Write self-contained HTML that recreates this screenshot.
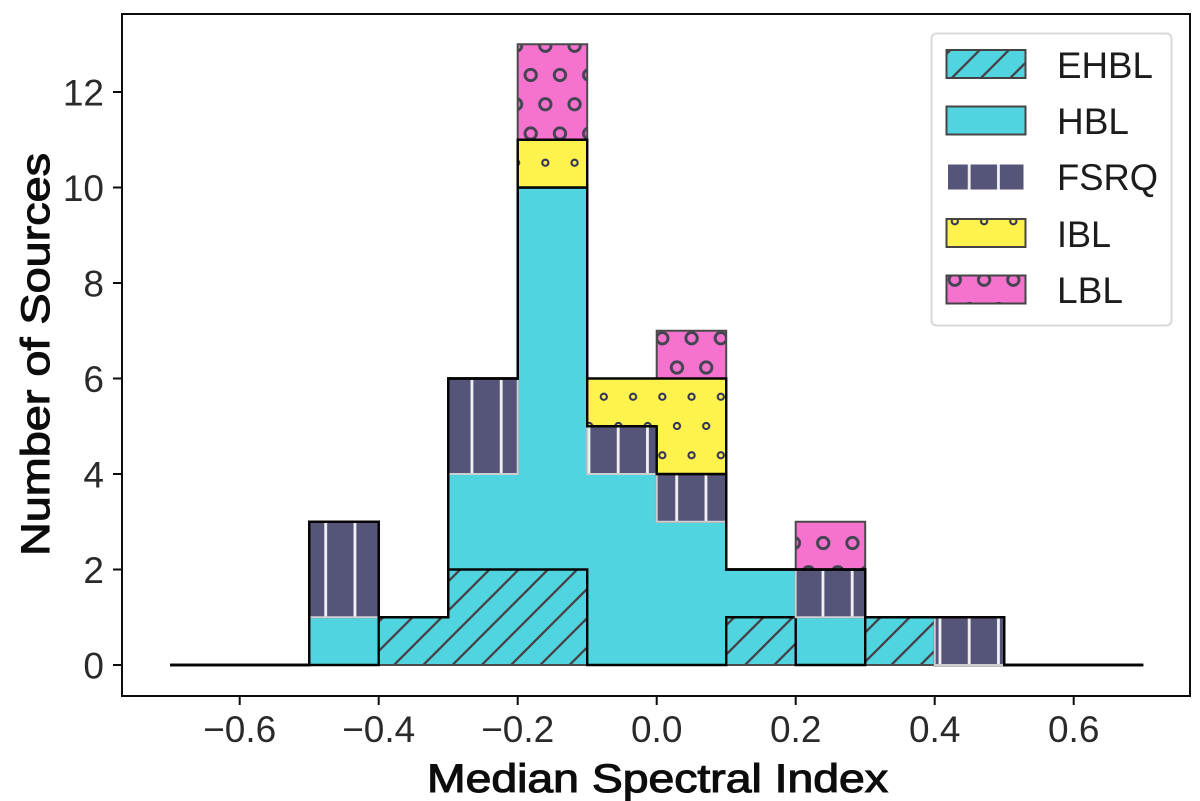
<!DOCTYPE html>
<html lang="en">
<head>
<meta charset="utf-8">
<title>Median Spectral Index histogram</title>
<style>
html,body{margin:0;padding:0;background:#fff;}
svg{display:block;}
text{font-family:"Liberation Sans",sans-serif;}
.tick{font-size:37px;fill:#2a2a2a;}
.axis-title{font-size:40px;font-weight:normal;fill:#0c0c0c;stroke:#0c0c0c;stroke-width:1.1px;}
.legend-label{font-size:37px;fill:#1c1c1c;}
</style>
</head>
<body>
<svg id="chart" xmlns="http://www.w3.org/2000/svg" width="1200" height="801" viewBox="0 0 1200 801">
  <defs>
    <pattern id="hatch-diag" patternUnits="userSpaceOnUse" x="6" y="0" width="29.25" height="29.25">
      <path d="M-3 3L3 -3M0 29.25L29.25 0M26.25 32.25L32.25 26.25" stroke="#463c42" stroke-width="2.2" fill="none"/>
    </pattern>
    <pattern id="hatch-vert" patternUnits="userSpaceOnUse" x="325.7" y="0" width="29.25" height="29.25">
      <path d="M0 0V29.25M29.25 0V29.25" stroke="#f2f2f4" stroke-width="2.8" fill="none"/>
    </pattern>
    <pattern id="hatch-small" patternUnits="userSpaceOnUse" x="530.7" y="75" width="29.25" height="58.5">
      <g fill="none" stroke="#34345a" stroke-width="2.1">
        <circle cx="0" cy="0" r="3.1"/><circle cx="29.25" cy="0" r="3.1"/>
        <circle cx="0" cy="58.5" r="3.1"/><circle cx="29.25" cy="58.5" r="3.1"/>
        <circle cx="14.625" cy="29.25" r="3.1"/>
      </g>
    </pattern>
    <pattern id="hatch-large" patternUnits="userSpaceOnUse" x="530.7" y="75" width="29.25" height="58.5">
      <g fill="none" stroke="#424550" stroke-width="2.9">
        <circle cx="0" cy="0" r="5.7"/><circle cx="29.25" cy="0" r="5.7"/>
        <circle cx="0" cy="58.5" r="5.7"/><circle cx="29.25" cy="58.5" r="5.7"/>
        <circle cx="14.625" cy="29.25" r="5.7"/>
      </g>
    </pattern>
  </defs>

  <rect x="122" y="14" width="1068" height="682" fill="#ffffff"/>
  <g id="marks"></g>
  <rect x="122" y="14" width="1068" height="682" fill="none" stroke="#0c0c0c" stroke-width="2"/>
  <g id="x-axis"></g>
  <g id="y-axis"></g>

  <text class="axis-title" x="427" y="792" textLength="461" lengthAdjust="spacingAndGlyphs">Median Spectral Index</text>
  <text class="axis-title" transform="translate(49,556) rotate(-90)" x="0" y="0" textLength="403" lengthAdjust="spacingAndGlyphs">Number of Sources</text>

  <g>
    <rect x="931.5" y="33.5" width="240" height="292" rx="5" fill="#ffffff" fill-opacity="0.9" stroke="#d8d8d8" stroke-width="2"/>
    <g>
      <rect x="946.5" y="50" width="79" height="28" fill="#50d5e0"/>
      <rect x="946.5" y="50" width="79" height="28" fill="url(#hatch-diag)" stroke="#444444" stroke-width="2"/>
      <text class="legend-label" x="1057" y="78" textLength="96" lengthAdjust="spacingAndGlyphs">EHBL</text>
    </g>
    <g>
      <rect x="946.5" y="106.5" width="79" height="28" fill="#50d5e0" stroke="#444444" stroke-width="2"/>
      <text class="legend-label" x="1057" y="134" textLength="72" lengthAdjust="spacingAndGlyphs">HBL</text>
    </g>
    <g>
      <rect x="948" y="164.5" width="75.5" height="25" fill="#555579"/>
      <rect x="948" y="164.5" width="75.5" height="25" fill="url(#hatch-vert)"/>
      <text class="legend-label" x="1057" y="190" textLength="101" lengthAdjust="spacingAndGlyphs">FSRQ</text>
    </g>
    <g>
      <rect x="946.5" y="219" width="79" height="28" fill="#fef24c"/>
      <rect x="946.5" y="219" width="79" height="28" fill="url(#hatch-small)" stroke="#444444" stroke-width="2"/>
      <text class="legend-label" x="1057" y="247" textLength="54" lengthAdjust="spacingAndGlyphs">IBL</text>
    </g>
    <g>
      <rect x="946.5" y="275.5" width="79" height="28" fill="#f572cf"/>
      <rect x="946.5" y="275.5" width="79" height="28" fill="url(#hatch-large)" stroke="#444444" stroke-width="2"/>
      <text class="legend-label" x="1057" y="303" textLength="66" lengthAdjust="spacingAndGlyphs">LBL</text>
    </g>
  </g>
</svg>

<script>
// Histogram bin edges and per-class counts (one count per bin).
const binEdges = [-0.7,-0.6,-0.5,-0.4,-0.3,-0.2,-0.1,0.0,0.1,0.2,0.3,0.4,0.5,0.6,0.7];
const ehblCounts = [0,0,0,1,2,2,0,0,1,0,1,0,0,0];
const hblCounts  = [0,0,1,0,2,8,4,3,1,1,0,0,0,0];
const fsrqCounts = [0,0,2,0,2,0,1,1,0,1,0,1,0,0];
const iblCounts  = [0,0,0,0,0,1,1,2,0,0,0,0,0,0];
const lblCounts  = [0,0,0,0,0,2,0,1,0,1,0,0,0,0];
const xTickValues = [-0.6,-0.4,-0.2,0.0,0.2,0.4,0.6];
const xTickLabels = ['\u22120.6','\u22120.4','\u22120.2','0.0','0.2','0.4','0.6'];
const yTickValues = [0,2,4,6,8,10,12];
const yTickLabels = ['0','2','4','6','8','10','12'];

const NS = 'http://www.w3.org/2000/svg';
function xScale(v){ return 656.7 + 695 * v; }
function yScale(v){ return 665 - 47.75 * v; }

function stackOn(base, counts){ return base.map(function(b,i){ return b + counts[i]; }); }

function stepForward(tops){
  let d = '';
  tops.forEach(function(t,i){
    const x0 = xScale(binEdges[i]).toFixed(2);
    const x1 = xScale(binEdges[i+1]).toFixed(2);
    const y = yScale(t).toFixed(2);
    d += (i === 0 ? 'M' : 'L') + x0 + ' ' + y + 'L' + x1 + ' ' + y;
  });
  return d;
}
function stepBackward(tops){
  let d = '';
  for(let i = tops.length - 1; i >= 0; i--){
    const y = yScale(tops[i]).toFixed(2);
    d += 'L' + xScale(binEdges[i+1]).toFixed(2) + ' ' + y + 'L' + xScale(binEdges[i]).toFixed(2) + ' ' + y;
  }
  return d;
}

const marks = document.getElementById('marks');

function drawPath(d, fill, stroke, width){
  const p = document.createElementNS(NS,'path');
  p.setAttribute('d', d);
  p.setAttribute('fill', fill);
  p.setAttribute('stroke', stroke);
  p.setAttribute('stroke-width', width);
  p.setAttribute('stroke-linejoin', 'miter');
  marks.appendChild(p);
  return p;
}

function drawLayer(name, lower, upper, color, hatch, edge){
  const d = stepForward(upper) + stepBackward(lower) + 'Z';
  const body = drawPath(d, color, 'none', 0);
  
  
  if(hatch){
    const overlay = drawPath(d, 'url(#' + hatch + ')', 'none', 0);
    
    
  }
  const outline = drawPath(d, 'none', edge, 2);
  
  
}

function drawOutline(name, tops){
  const line = drawPath(stepForward(tops), 'none', '#050505', 2.4);
  
  
}

const zeros = ehblCounts.map(function(){ return 0; });
const cumEhbl = stackOn(zeros, ehblCounts);
const cumHbl  = stackOn(cumEhbl, hblCounts);
const cumFsrq = stackOn(cumHbl, fsrqCounts);
const cumIbl  = stackOn(cumFsrq, iblCounts);
const cumLbl  = stackOn(cumIbl, lblCounts);

drawLayer('ehbl', zeros, cumEhbl, '#50d5e0', 'hatch-diag', '#4c4c4c');
drawLayer('hbl', cumEhbl, cumHbl, '#50d5e0', null, '#444444');
drawOutline('ehbl', cumEhbl);
drawLayer('fsrq', cumHbl, cumFsrq, '#555579', 'hatch-vert', '#cfcfd2');
drawOutline('fsrq', cumFsrq);
drawLayer('ibl', cumFsrq, cumIbl, '#fef24c', 'hatch-small', '#333344');
drawLayer('lbl', cumIbl, cumLbl, '#f572cf', 'hatch-large', '#4a4a4a');
drawOutline('fsrq-top', cumFsrq);
drawOutline('ibl', cumIbl);

const xAxis = document.getElementById('x-axis');
xTickValues.forEach(function(v,i){
  const px = xScale(v);
  const t = document.createElementNS(NS,'line');
  t.setAttribute('x1', px); t.setAttribute('x2', px);
  t.setAttribute('y1', 696); t.setAttribute('y2', 705);
  t.setAttribute('stroke', '#0c0c0c'); t.setAttribute('stroke-width', 2);
  
  
  xAxis.appendChild(t);
  const l = document.createElementNS(NS,'text');
  l.setAttribute('x', px); l.setAttribute('y', 742);
  l.setAttribute('text-anchor', 'middle');
  l.setAttribute('class', 'tick');
  
  
  l.textContent = xTickLabels[i];
  xAxis.appendChild(l);
});

const yAxis = document.getElementById('y-axis');
yTickValues.forEach(function(v,i){
  const py = yScale(v);
  const t = document.createElementNS(NS,'line');
  t.setAttribute('x1', 113); t.setAttribute('x2', 122);
  t.setAttribute('y1', py); t.setAttribute('y2', py);
  t.setAttribute('stroke', '#0c0c0c'); t.setAttribute('stroke-width', 2);
  
  
  yAxis.appendChild(t);
  const l = document.createElementNS(NS,'text');
  l.setAttribute('x', 104); l.setAttribute('y', py + 13.5);
  l.setAttribute('text-anchor', 'end');
  l.setAttribute('class', 'tick');
  
  
  l.textContent = yTickLabels[i];
  yAxis.appendChild(l);
});
</script>
</body>
</html>
